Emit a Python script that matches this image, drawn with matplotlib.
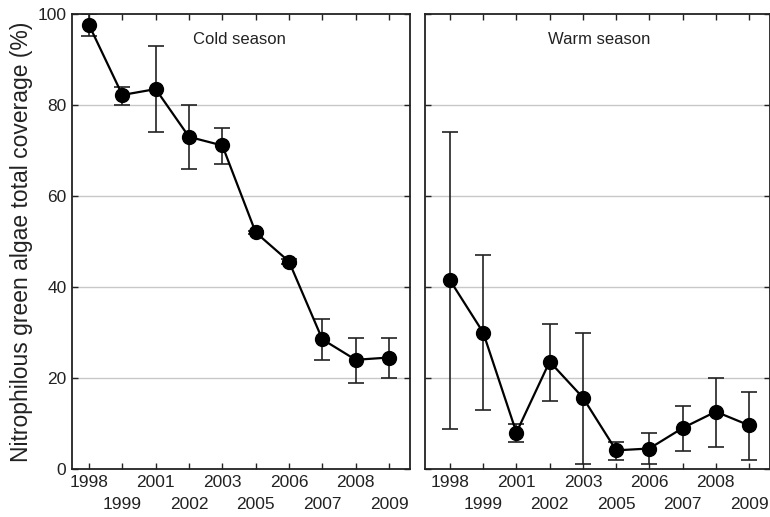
import matplotlib
matplotlib.use("Agg")
import matplotlib.pyplot as plt
import numpy as np

plt.rcParams['font.family'] = ['Liberation Sans', 'DejaVu Sans']

years = ['1998', '1999', '2001', '2002', '2003', '2005', '2006', '2007', '2008', '2009']

cold_mean = [97.6, 82.2, 83.5, 73.0, 71.1, 52.0, 45.6, 28.5, 24.0, 24.5]
cold_upper = [100.0, 83.9, 93.0, 80.0, 75.0, 52.3, 46.1, 32.9, 28.9, 28.9]
cold_lower = [95.1, 80.0, 74.0, 66.0, 67.0, 51.7, 45.1, 24.0, 18.9, 19.9]

warm_mean = [41.5, 30.0, 8.0, 23.6, 15.7, 4.1, 4.5, 9.0, 12.6, 9.6]
warm_upper = [74.0, 47.0, 10.0, 31.9, 30.0, 5.9, 7.9, 13.9, 20.0, 16.9]
warm_lower = [8.9, 13.0, 5.9, 14.9, 1.0, 2.0, 1.0, 4.0, 4.9, 2.0]

panel_titles = ['Cold season', 'Warm season']
ylabel = 'Nitrophilous green algae total coverage (%)'
yticks = [0, 20, 40, 60, 80, 100]

fig = plt.figure(figsize=(7.7, 5.17), dpi=100)
W, H = 770, 517
ax1 = fig.add_axes([72 / W, (H - 469) / H, (410 - 72) / W, (469 - 14) / H])
ax2 = fig.add_axes([425 / W, (H - 469) / H, (770 - 425) / W, (469 - 14) / H])

x = np.arange(len(years))
even = x[::2]
odd = x[1::2]

for ax, mean, up, lo, title, xl in [
    (ax1, cold_mean, cold_upper, cold_lower, panel_titles[0], (-0.51, 9.63)),
    (ax2, warm_mean, warm_upper, warm_lower, panel_titles[1], (-0.75, 9.63)),
]:
    mean = np.array(mean)
    yerr = np.vstack([mean - np.array(lo), np.array(up) - mean])
    for g in [20, 40, 60, 80]:
        ax.axhline(g, color='#c8c8c8', lw=1.0, zorder=0)
    ax.errorbar(x, mean, yerr=yerr, fmt='none', ecolor='#222222', elinewidth=1.2,
                capsize=6, capthick=1.2, zorder=2, clip_on=True)
    ax.plot(x, mean, color='black', lw=1.6, marker='o', markersize=10,
            markerfacecolor='black', markeredgecolor='black', zorder=3)
    ax.set_xlim(*xl)
    ax.set_ylim(0, 100)
    ax.set_yticks(yticks)
    ax.set_xticks(even)
    ax.set_xticklabels([years[i] for i in even])
    ax.set_xticks(odd, minor=True)
    ax.set_xticklabels([years[i] for i in odd], minor=True)
    ax.tick_params(axis='both', which='both', direction='in', length=4, width=1.0,
                   top=True, right=True, labelsize=12.5, pad=4, colors='#222222')
    ax.tick_params(axis='x', which='minor', pad=20.5)
    ax.tick_params(axis='y', which='minor', left=False, right=False)
    for s in ax.spines.values():
        s.set_linewidth(1.3)
        s.set_color('#222222')
    ax.text(4.5, 94.3, title, ha='center', va='center', fontsize=12, color='#222222')

ax2.set_yticklabels([])
ax1.set_ylabel(ylabel, fontsize=16.5, color='#222222', labelpad=3)

fig.savefig('out.png', dpi=100)
